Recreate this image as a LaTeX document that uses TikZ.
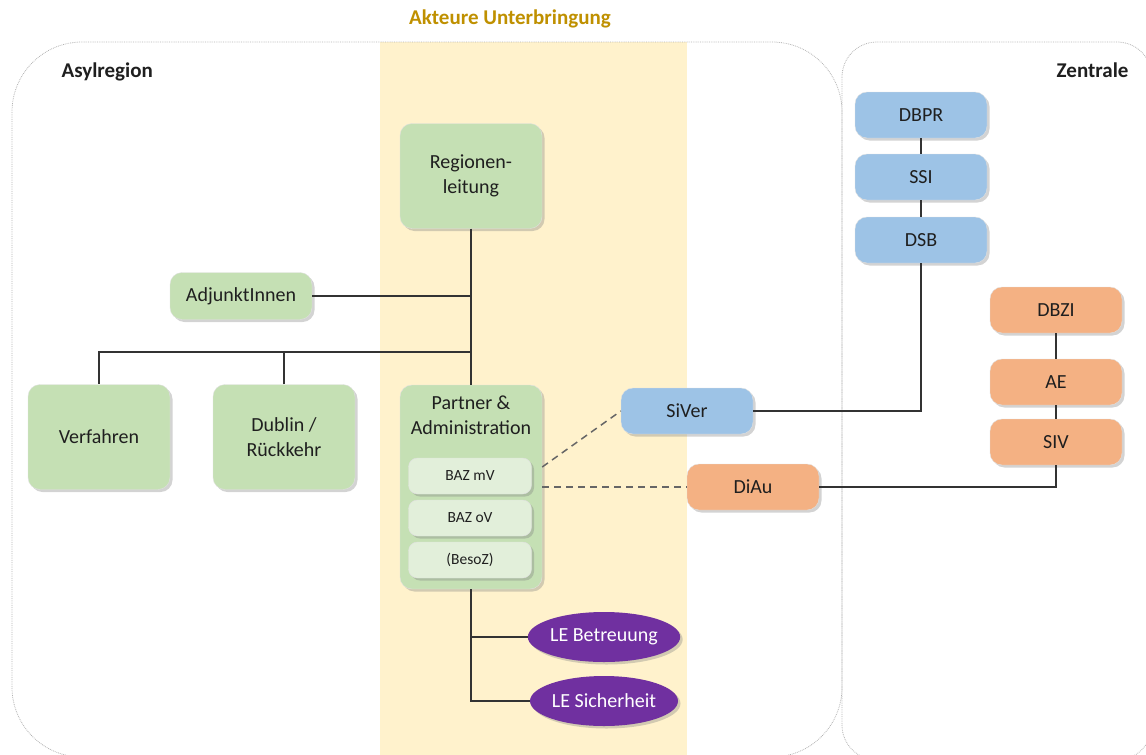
\documentclass[tikz,border=0pt]{standalone}
\usepackage{fontspec}
\setmainfont{Carlito}
\usepackage{xcolor}
\usetikzlibrary{shapes,shapes.geometric,calc,positioning,shadows}

\definecolor{gruen}{HTML}{C5E0B4}
\definecolor{hellgruen}{HTML}{E2EFDA}
\definecolor{blau}{HTML}{9DC3E6}
\definecolor{apricot}{HTML}{F4B183}
\definecolor{lila}{HTML}{7030A0}
\definecolor{gelb}{HTML}{FFF2CC}
\definecolor{gold}{HTML}{BF9000}
\definecolor{schrift}{HTML}{1F1F1F}

\begin{document}
\begin{tikzpicture}[x=1pt, y=-1pt, arrow/.style = {line width=1.5pt, draw=black!80}, dasharrow/.style = {line width=1.5pt, draw=black!60, dash pattern=on 7pt off 5pt}, node distance=64pt]
		\tikzset{box/.style={rectangle, rounded corners=12pt, draw=black!12, fill=gruen, text=schrift, text centered, align=center, minimum width=142pt, minimum height=105pt, inner sep=0pt, font=\fontsize{20}{25}\selectfont, drop shadow={shadow xshift=2.5pt, shadow yshift=-2.5pt, opacity=0.35}}}
		\tikzset{subbox/.style={box, fill=hellgruen, rounded corners=9pt, minimum width=123pt, minimum height=36pt, font=\fontsize{15.5}{18}\selectfont}}
		\tikzset{bluebox/.style={box, fill=blau, minimum width=132pt, minimum height=46pt}}
		\tikzset{orangebox/.style={bluebox, fill=apricot}}
		\tikzset{ebox/.style={ellipse, fill=lila, text=white, inner sep=0pt, minimum width=148pt, minimum height=50pt, font=\fontsize{20}{25}\selectfont, drop shadow={shadow xshift=2.5pt, shadow yshift=-2.5pt, opacity=0.35}}}
		\tikzset{region/.style={draw=black!30, densely dotted, line width=0.8pt}}
		\tikzset{heading/.style={font=\bfseries\fontsize{21}{25}\selectfont, text=schrift}}

		\useasboundingbox (0,0) rectangle (1146,755);

		% Hintergrund
		\fill[gelb] (380,42) rectangle (687,755);
		\draw[region, rounded corners=70pt] (12,42) rectangle (842,757);
		\draw[region, rounded corners=35pt] (842,42) rectangle (1152,760);

		\node[heading, text=gold] (titel) at (510,19) {Akteure Unterbringung};
		\node[heading, anchor=west] (asylregion) at (58,72) {Asylregion};
		\node[heading, anchor=east] (zentrale) at (1132,70) {Zentrale};

		% Asylregion
		\node[box] (regio) at (471,176) {Regionen-\\leitung};
		\node[box, minimum height=47pt] (adjunkt) at (241,296) {AdjunktInnen};
		\node[box] (verfahren) at (99,437) {Verfahren};
		\node[box, right of=verfahren, node distance=185pt] (dublin) {Dublin /\\Rückkehr};

		\node[box, minimum height=204pt, below of=regio, node distance=311pt, label={[anchor=north, yshift=-7pt, align=center, text=schrift, font=\fontsize{20}{25}\selectfont]north:Partner \&\\Administration}] (partner) {};
		\node[subbox] (bazmv) at (470,476) {BAZ mV};
		\node[subbox, below of=bazmv, node distance=42pt] (bazov) {BAZ oV};
		\node[subbox, below of=bazov, node distance=42pt] (besoz) {(BesoZ)};

		\node[ebox] (lebetr) at (604,637) {LE Betreuung};
		\node[ebox, below of=lebetr] (lesich) {LE Sicherheit};

		% Zentrale
		\node[bluebox] (dbpr) at (921,115) {DBPR};
		\node[bluebox, below of=dbpr, node distance=62pt] (ssi) {SSI};
		\node[bluebox, below of=ssi, node distance=63pt] (dsb) {DSB};
		\node[bluebox] (siver) at (687,411) {SiVer};

		\node[orangebox] (dbzi) at (1056,310) {DBZI};
		\node[orangebox, below of=dbzi, node distance=72pt] (ae) {AE};
		\node[orangebox, below of=ae, node distance=60pt] (siv) {SIV};
		\node[orangebox] (diau) at (753,487) {DiAu};

		% Linien
		\coordinate (abzweig) at (471,352);
		\draw [arrow] (regio) -- (partner);
		\draw [arrow] (adjunkt) -- (adjunkt -| regio);
		\draw [arrow] (abzweig) -| (verfahren);
		\draw [arrow] (dublin) |- (abzweig);
		\draw [arrow] (partner) |- (lebetr);
		\draw [arrow] (partner) |- (lesich);

		\draw [arrow] (dbpr) -- (ssi) -- (dsb);
		\draw [arrow] (dsb) |- (siver);
		\draw [arrow] (dbzi) -- (ae) -- (siv);
		\draw [arrow] (siv) |- (diau);

		\draw [dasharrow] ([yshift=20pt]partner.east) -- (siver.west);
		\draw [dasharrow] (partner.east) -- (diau.west);

	\end{tikzpicture}
\end{document}
